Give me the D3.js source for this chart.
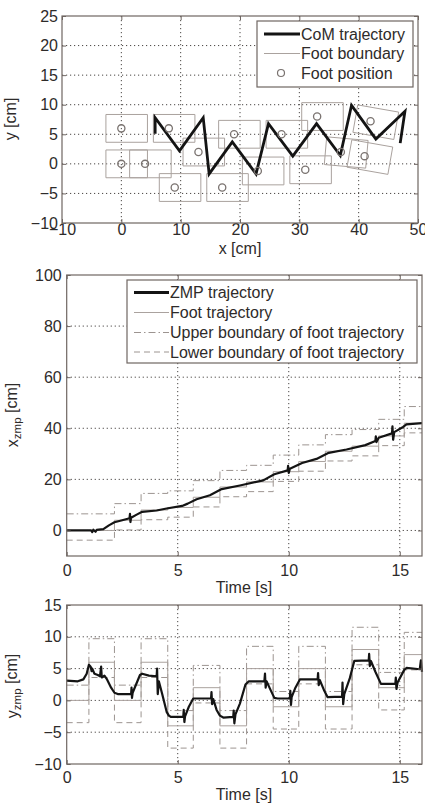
<!DOCTYPE html>
<html>
<head>
<meta charset="utf-8">
<script src="https://cdn.jsdelivr.net/npm/d3@7"></script>
<style>
    body { margin: 0; background: #fff; }
    text { font-family: "Liberation Sans", Arial, sans-serif; fill: #2e2b2a; }
</style>
</head>
<body>
<svg id="fig" width="425" height="805"></svg>
<script>
// ---- top panel: CoM and footprints (cm) ----
var footPosX = [0, 0, 4, 8, 9, 13, 17, 19, 23, 27, 31, 33, 37, 41, 42];
var footPosY = [6, 0, 0, 6, -4, 2, -4, 5, -1.2, 5, -1, 8, 2, 1.3, 7.2];
var footYaw  = [0, 0, 0, 0, 0, 0, 0, 0, 0, 0, 0, 0, -5, -10, -10];   // deg

var comX = [5.7, 5.7, 9.8, 13.8, 14.8, 18.7, 22.7, 24.8, 28.9, 32.9, 36.9, 38.8, 42.9, 47.8, 47.0];
var comY = [5.1, 7.8, 2.2, 7.8, -1.7, 3.7, -1.7, 6.8, 1.3, 6.8, 1.4, 9.9, 4.2, 8.9, 3.5];

var xyTicksX = [-10, 0, 10, 20, 30, 40, 50];
var xyTicksY = [-10, -5, 0, 5, 10, 15, 20, 25];

// ---- step sequence (s) ----
var stepTime = [0, 1.0, 2.15, 3.35, 4.55, 5.7, 6.9, 8.1, 9.3, 10.45, 11.65, 12.85, 14.05, 15.2, 16];

var footTrajX = [0, 0, 4, 8, 9, 13, 17, 19, 23, 27, 31, 33, 37, 42];
var upperX    = [6.5, 6.5, 10.5, 14.5, 15.5, 19.5, 23.5, 25.5, 29.5, 33.5, 37.5, 39.5, 43.5, 48.5];
var lowerX    = [-3.8, -3.8, 0.2, 4.2, 5.2, 9.2, 13.2, 15.2, 19.2, 23.2, 27.2, 29.2, 33.2, 38.2];

var footTrajY = [0, 6, 0, 6, -4, 2, -4, 5, -1, 5, -1, 8, 2, 7.2];
var upperY    = [2.4, 9.7, 2.4, 9.7, -1.6, 5.5, -1.6, 8.5, 1.4, 8.5, 1.4, 11.5, 4.4, 10.7];
var lowerY    = [-3.5, 3.6, -3.5, 3.6, -7.5, -0.4, -7.5, 2.6, -4.5, 2.6, -4.5, 5.6, -1.5, 4.8];

// ---- ZMP trajectories ----
var zmpTimeX = [0, 1.1, 1.15, 1.2, 1.3, 1.35, 1.65, 1.9, 2.15, 2.5, 2.83, 2.85, 2.87, 2.9, 3.15, 3.4,
                4.05, 4.5, 5.2, 5.45, 5.85, 6.45, 6.98, 7.8, 8.85, 9.35, 9.95, 9.97, 10.0, 10.05,
                10.6, 11.25, 11.8, 12.6, 13.45, 13.9, 13.92, 13.95, 14.05, 14.65, 14.67, 14.7, 14.75,
                15.15, 15.3, 16.0];
var zmpX     = [0, 0, -0.6, 0.3, -0.5, 0.2, 0.5, 2.0, 3.2, 4.0, 4.8, 6.5, 3.3, 5.0, 6.2, 7.3,
                7.8, 8.6, 9.6, 10.5, 12.2, 13.8, 16.2, 17.6, 19.6, 22.0, 23.5, 25.3, 22.5, 24.2,
                26.4, 28.0, 30.4, 31.7, 33.4, 35.0, 36.8, 34.6, 36.3, 38.0, 40.8, 35.5, 38.5,
                40.5, 41.5, 42.0];

var zmpTimeY = [0, 0.5, 0.75, 0.9, 1.0, 1.08, 1.12, 1.15, 1.25, 1.4, 1.5, 1.55, 1.58, 1.7, 1.8, 2.0,
                2.15, 2.3, 2.9, 2.92, 2.94, 2.97, 3.1, 3.3, 3.4, 3.7, 4.05, 4.07, 4.1, 4.15, 4.3,
                4.5, 4.6, 4.7, 5.25, 5.27, 5.3, 5.33, 5.5, 5.7, 6.5, 6.52, 6.55, 6.6, 6.75, 6.9,
                7.05, 7.5, 7.52, 7.55, 7.6, 7.8, 8.05, 8.2, 8.9, 8.93, 8.96, 9.0, 9.2, 9.35, 9.5,
                10.05, 10.07, 10.1, 10.13, 10.3, 10.5, 11.3, 11.32, 11.35, 11.4, 11.6, 11.75,
                12.4, 12.42, 12.45, 12.5, 12.75, 12.95, 13.6, 13.62, 13.65, 13.7, 13.9, 14.15,
                14.8, 14.82, 14.85, 14.9, 15.2, 15.3, 15.9, 15.95, 16.0];
var zmpY     = [3.1, 3.0, 3.3, 4.2, 5.6, 5.3, 4.6, 5.0, 4.2, 4.0, 3.8, 5.3, 3.6, 3.9, 3.4, 2.0,
                1.2, 1.0, 1.0, 2.0, 0.4, 1.2, 2.3, 4.0, 4.2, 3.9, 3.8, 5.0, 1.0, 3.0, 1.0,
                -1.8, -2.4, -2.6, -2.6, -1.5, -3.4, -2.5, -1.0, 0.3, 0.3, 1.3, -0.6, 0.2, -1.5, -2.4,
                -2.7, -2.6, -1.6, -3.6, -2.2, -0.5, 2.5, 3.0, 3.0, 4.2, 2.0, 3.0, 1.5, 0.4, 0.3,
                0.3, 1.5, -0.7, 0.5, 2.0, 3.3, 3.3, 4.3, 2.4, 3.2, 1.5, 0.5,
                0.6, 2.8, -0.6, 1.0, 3.5, 6.2, 6.3, 7.3, 5.4, 6.2, 4.5, 2.6,
                2.6, 3.6, 1.8, 2.8, 4.8, 5.1, 4.9, 6.3, 4.5];

var timeTicks = [0, 5, 10, 15];
var xzmpTicks = [0, 20, 40, 60, 80, 100];
var yzmpTicks = [-10, -5, 0, 5, 10, 15];

// footprint outline relative to the ankle point (cm)
var FOOT_BACK = 2.6, FOOT_FRONT = 4.4, FOOT_HALF_W = 2.35;

var boxColor = "#6f6662";
var gridColor = "#4a4644";
var footColor = "#aaa29e";
var boundColor = "#9c9490";

var svg = d3.select("#fig");

function panel(box, xDomain, yDomain, xTicks, yTicks, xPad, yPad) {
    var g = svg.append("g");
    var x = d3.scaleLinear().domain(xDomain).range([box.left, box.right]);
    var y = d3.scaleLinear().domain(yDomain).range([box.bottom, box.top]);

    g.append("rect")
        .attr("x", box.left).attr("y", box.top)
        .attr("width", box.right - box.left).attr("height", box.bottom - box.top)
        .attr("fill", "#fff");

    // dotted grid
    g.selectAll(".gx").data(xTicks.filter(function(d) { return d > xDomain[0] && d < xDomain[1]; }))
        .enter().append("line")
        .attr("x1", function(d) { return x(d); }).attr("x2", function(d) { return x(d); })
        .attr("y1", box.top).attr("y2", box.bottom)
        .attr("stroke", gridColor).attr("stroke-width", 1).attr("stroke-dasharray", "1.2,2.8");
    g.selectAll(".gy").data(yTicks.filter(function(d) { return d > yDomain[0] && d < yDomain[1]; }))
        .enter().append("line")
        .attr("y1", function(d) { return y(d); }).attr("y2", function(d) { return y(d); })
        .attr("x1", box.left).attr("x2", box.right)
        .attr("stroke", gridColor).attr("stroke-width", 1).attr("stroke-dasharray", "1.2,2.8");

    var plot = g.append("g");

    var axes = g.append("g");
    axes.append("g").attr("transform", "translate(0," + box.bottom + ")")
        .call(d3.axisBottom(x).tickValues(xTicks).tickSizeInner(-4).tickSizeOuter(0).tickPadding(xPad));
    axes.append("g").attr("transform", "translate(0," + box.top + ")")
        .call(d3.axisTop(x).tickValues(xTicks).tickSizeInner(-4).tickSizeOuter(0).tickFormat(""));
    axes.append("g").attr("transform", "translate(" + box.left + ",0)")
        .call(d3.axisLeft(y).tickValues(yTicks).tickSizeInner(-4).tickSizeOuter(0).tickPadding(yPad));
    axes.append("g").attr("transform", "translate(" + box.right + ",0)")
        .call(d3.axisRight(y).tickValues(yTicks).tickSizeInner(-4).tickSizeOuter(0).tickFormat(""));
    axes.selectAll(".domain").remove();
    axes.selectAll(".tick line").attr("stroke", boxColor);
    axes.selectAll(".tick text").style("font-size", "16px").attr("fill", "#2e2b2a");

    g.append("rect")
        .attr("x", box.left).attr("y", box.top)
        .attr("width", box.right - box.left).attr("height", box.bottom - box.top)
        .attr("fill", "none").attr("stroke", boxColor).attr("stroke-width", 1.2);

    return {g: g, plot: plot, x: x, y: y, box: box};
}

function stairPoints(times, values) {
    var pts = values.map(function(v, i) { return [times[i], v]; });
    pts.push([times[values.length], values[values.length - 1]]);
    return pts;
}

function legend(x0, y0, w, h, items, lineLen) {
    var lg = svg.append("g").attr("transform", "translate(" + x0 + "," + y0 + ")");
    lg.append("rect").attr("width", w).attr("height", h)
        .attr("fill", "#fff").attr("stroke", boxColor).attr("stroke-width", 1.2);
    items.forEach(function(it, i) {
        var cy = it.y;
        if (it.marker) {
            lg.append("circle").attr("cx", 6 + lineLen / 2).attr("cy", cy).attr("r", 3.5)
                .attr("fill", "none").attr("stroke", "#7a7370").attr("stroke-width", 1.2);
        } else {
            lg.append("line").attr("x1", 7).attr("x2", 7 + lineLen).attr("y1", cy).attr("y2", cy)
                .attr("stroke", it.color).attr("stroke-width", it.width)
                .attr("stroke-dasharray", it.dash || null);
        }
        lg.append("text").attr("x", 8 + lineLen).attr("y", cy).attr("dy", "0.36em")
            .style("font-size", "16px").text(it.label);
    });
}

// ================= top: x-y plane =================
var p1 = panel({left: 62, right: 418, top: 16, bottom: 223}, [-10, 50], [-10, 25], xyTicksX, xyTicksY, 1, 4);

var feet = footPosX.map(function(fx, i) { return {x: fx, y: footPosY[i], yaw: footYaw[i]}; });

p1.plot.selectAll(".foot").data(feet).enter().append("polygon")
    .attr("points", function(d) {
        var a = d.yaw * Math.PI / 180;
        var c = Math.cos(a), s = Math.sin(a);
        var corners = [[-FOOT_BACK, -FOOT_HALF_W], [FOOT_FRONT, -FOOT_HALF_W], [FOOT_FRONT, FOOT_HALF_W], [-FOOT_BACK, FOOT_HALF_W]];
        return corners.map(function(q) {
            var px = d.x + q[0] * c - q[1] * s;
            var py = d.y + q[0] * s + q[1] * c;
            return p1.x(px) + "," + p1.y(py);
        }).join(" ");
    })
    .attr("fill", "none").attr("stroke", footColor).attr("stroke-width", 1);

var comLine = d3.line()
    .x(function(d, i) { return p1.x(comX[i]); })
    .y(function(d, i) { return p1.y(comY[i]); });
p1.plot.append("path").attr("d", comLine(comX))
    .attr("fill", "none").attr("stroke", "#141414").attr("stroke-width", 2.8).attr("stroke-linejoin", "miter");

p1.plot.selectAll(".fp").data(feet).enter().append("circle")
    .attr("cx", function(d) { return p1.x(d.x); })
    .attr("cy", function(d) { return p1.y(d.y); })
    .attr("r", 3.6)
    .attr("fill", "none").attr("stroke", "#7a7370").attr("stroke-width", 1.3);

svg.append("text").attr("x", 240).attr("y", 248).attr("dy", "0.36em").attr("text-anchor", "middle")
    .style("font-size", "16px").text("x [cm]");
svg.append("text").attr("transform", "translate(16,119) rotate(-90)").attr("text-anchor", "middle")
    .style("font-size", "16px").text("y [cm]");

legend(257, 21, 156, 66, [
    {label: "CoM trajectory", color: "#141414", width: 3, y: 13},
    {label: "Foot boundary", color: footColor, width: 1, y: 32.5},
    {label: "Foot position", marker: true, y: 52}
], 36);

// ================= middle: x_zmp =================
var p2 = panel({left: 66.7, right: 422, top: 275, bottom: 556}, [0, 16], [-10, 100], timeTicks, xzmpTicks, 9, 5);

var stair = function(pn) {
    return d3.line().curve(d3.curveStepAfter)
        .x(function(d) { return pn.x(d[0]); })
        .y(function(d) { return pn.y(d[1]); });
};

p2.plot.append("path").attr("d", stair(p2)(stairPoints(stepTime, upperX)))
    .attr("fill", "none").attr("stroke", boundColor).attr("stroke-width", 1).attr("stroke-dasharray", "7,3,1.5,3");
p2.plot.append("path").attr("d", stair(p2)(stairPoints(stepTime, lowerX)))
    .attr("fill", "none").attr("stroke", boundColor).attr("stroke-width", 1).attr("stroke-dasharray", "6,4");
p2.plot.append("path").attr("d", stair(p2)(stairPoints(stepTime, footTrajX)))
    .attr("fill", "none").attr("stroke", footColor).attr("stroke-width", 1);

var zmpLineX = d3.line()
    .x(function(d, i) { return p2.x(zmpTimeX[i]); })
    .y(function(d, i) { return p2.y(zmpX[i]); });
p2.plot.append("path").attr("d", zmpLineX(zmpX))
    .attr("fill", "none").attr("stroke", "#141414").attr("stroke-width", 2.2).attr("stroke-linejoin", "round");

svg.append("text").attr("x", 244).attr("y", 587).attr("dy", "0.36em").attr("text-anchor", "middle")
    .style("font-size", "16px").text("Time [s]");
var yl2 = svg.append("text").attr("transform", "translate(18,415) rotate(-90)").attr("text-anchor", "middle")
    .style("font-size", "16px");
yl2.append("tspan").text("x");
yl2.append("tspan").attr("dy", "0.3em").style("font-size", "11.5px").text("zmp");
yl2.append("tspan").attr("dy", "-0.25em").text(" [cm]");

legend(127, 280, 290, 83, [
    {label: "ZMP trajectory", color: "#141414", width: 2.8, y: 12.5},
    {label: "Foot trajectory", color: footColor, width: 1, y: 32.5},
    {label: "Upper boundary of foot trajectory", color: boundColor, width: 1, dash: "7,3,1.5,3", y: 52.5},
    {label: "Lower boundary of foot trajectory", color: boundColor, width: 1, dash: "6,4", y: 72}
], 35);

// ================= bottom: y_zmp =================
var p3 = panel({left: 66.7, right: 422, top: 605, bottom: 764}, [0, 16], [-10, 15], timeTicks, yzmpTicks, 8, 5);

p3.plot.append("path").attr("d", stair(p3)(stairPoints(stepTime, upperY)))
    .attr("fill", "none").attr("stroke", boundColor).attr("stroke-width", 1).attr("stroke-dasharray", "7,3,1.5,3");
p3.plot.append("path").attr("d", stair(p3)(stairPoints(stepTime, lowerY)))
    .attr("fill", "none").attr("stroke", boundColor).attr("stroke-width", 1).attr("stroke-dasharray", "6,4");
p3.plot.append("path").attr("d", stair(p3)(stairPoints(stepTime, footTrajY)))
    .attr("fill", "none").attr("stroke", footColor).attr("stroke-width", 1);

var zmpLineY = d3.line()
    .x(function(d, i) { return p3.x(zmpTimeY[i]); })
    .y(function(d, i) { return p3.y(zmpY[i]); });
p3.plot.append("path").attr("d", zmpLineY(zmpY))
    .attr("fill", "none").attr("stroke", "#141414").attr("stroke-width", 2.2).attr("stroke-linejoin", "round");

svg.append("text").attr("x", 244).attr("y", 794).attr("dy", "0.36em").attr("text-anchor", "middle")
    .style("font-size", "16px").text("Time [s]");
var yl3 = svg.append("text").attr("transform", "translate(18,686) rotate(-90)").attr("text-anchor", "middle")
    .style("font-size", "16px");
yl3.append("tspan").text("y");
yl3.append("tspan").attr("dy", "0.3em").style("font-size", "11.5px").text("zmp");
yl3.append("tspan").attr("dy", "-0.25em").text(" [cm]");
</script>
</body>
</html>
